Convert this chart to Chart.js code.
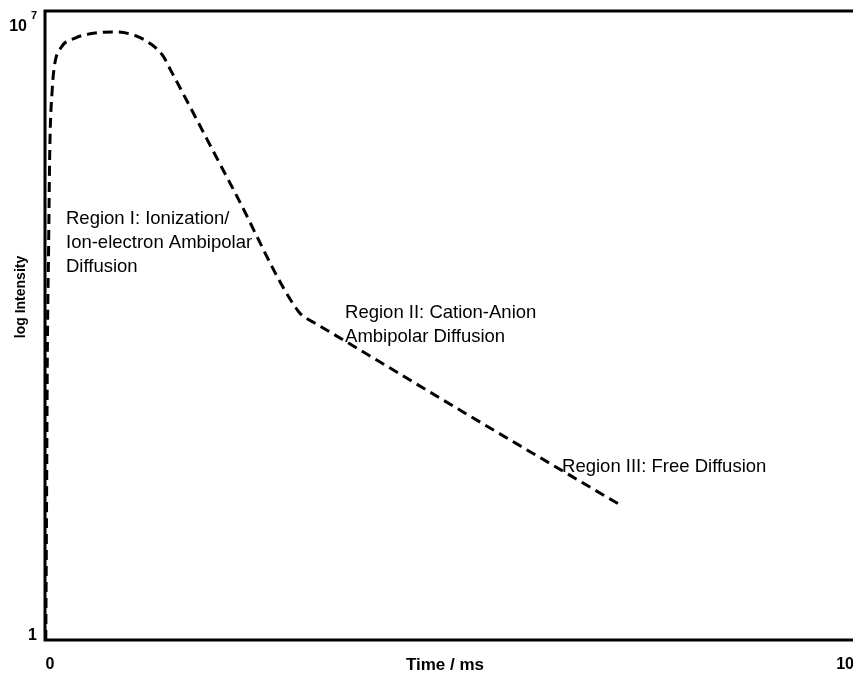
<!DOCTYPE html>
<html>
<head>
<meta charset="utf-8">
<title>Ion decay regions</title>
<script src="https://cdn.jsdelivr.net/npm/chart.js@4.4.1/dist/chart.umd.min.js"></script>
<style>
  html, body { margin: 0; padding: 0; overflow: hidden; background: #ffffff; }
  #wrap { width: 856px; height: 674px; }
</style>
</head>
<body>
<div id="wrap"><canvas id="c" width="856" height="674"></canvas></div>
<script>
// Decay curve: time (ms) vs. intensity (log scale)
const timeMs = [0.01, 0.02, 0.03, 0.045, 0.06, 0.09, 0.12, 0.2, 0.38, 0.64, 0.89, 1.14, 1.33, 1.48, 1.58, 2.38, 3.19, 3.29, 3.41, 5.32, 7.23];
const intensity = [1, 36, 1700, 22000, 280000, 1.3e6, 2.5e6, 3.9e6, 5.0e6, 5.7e6, 5.85e6, 5.3e6, 4.3e6, 3.2e6, 2.2e6, 99000, 4500, 3800, 3300, 320, 32];

// Axis ticks
const xTicks = [0, 10];
const yTicks = [1, 1e7];

// Axis titles
const xTitle = 'Time / ms';
const yTitle = 'log Intensity';

// Region notes, anchored in data coordinates
const noteText = [
  ['Region I: Ionization/', 'Ion-electron Ambipolar', 'Diffusion'],
  ['Region II: Cation-Anion', 'Ambipolar Diffusion'],
  ['Region III: Free Diffusion']
];
const noteX = [0.264, 3.774, 6.503];
const noteY = [48400, 4360, 84];

const points = timeMs.map((t, i) => ({ x: t, y: intensity[i] }));

const FONT = '"Liberation Sans", Arial, Helvetica, sans-serif';

const framePlugin = {
  id: 'frame',
  afterDatasetsDraw(chart) {
    const ctx = chart.ctx;
    const a = chart.chartArea;
    const xs = chart.scales.x;
    const ys = chart.scales.y;
    ctx.save();

    // frame: left axis, bottom axis, top edge
    ctx.strokeStyle = '#000';
    ctx.lineWidth = 3;
    ctx.lineCap = 'butt';
    ctx.beginPath();
    ctx.moveTo(a.left - 1.5, a.top);
    ctx.lineTo(a.right + 2, a.top);
    ctx.moveTo(a.left, a.top);
    ctx.lineTo(a.left, a.bottom);
    ctx.moveTo(a.left - 1.5, a.bottom);
    ctx.lineTo(a.right + 2, a.bottom);
    ctx.stroke();

    ctx.fillStyle = '#000';

    // y tick labels (powers of ten)
    ctx.textAlign = 'right';
    ctx.textBaseline = 'middle';
    yTicks.forEach(v => {
      const py = ys.getPixelForValue(v);
      const ly = Math.min(Math.max(py, a.top + 16), a.bottom - 4);
      const e = Math.round(Math.log10(v));
      if (e === 0) {
        ctx.font = 'bold 16px ' + FONT;
        ctx.fillText('1', 37, ly);
      } else {
        ctx.font = 'bold 11px ' + FONT;
        ctx.fillText(String(e), 37, ly - 11);
        ctx.font = 'bold 16px ' + FONT;
        ctx.fillText('10', 27, ly);
      }
    });

    // x tick labels
    ctx.textAlign = 'center';
    ctx.font = 'bold 16px ' + FONT;
    xTicks.forEach(v => {
      ctx.fillText(String(v), xs.getPixelForValue(v) + 5, 665);
    });

    // axis titles
    ctx.font = 'bold 17px ' + FONT;
    ctx.fillText(xTitle, 445, 665);
    ctx.save();
    ctx.translate(21, 297);
    ctx.rotate(-Math.PI / 2);
    ctx.font = 'bold 14px ' + FONT;
    ctx.fillText(yTitle, 0, 0);
    ctx.restore();

    // region notes
    ctx.textAlign = 'left';
    ctx.font = '18.5px ' + FONT;
    noteText.forEach((lines, i) => {
      const px = xs.getPixelForValue(noteX[i]);
      const py = ys.getPixelForValue(noteY[i]);
      lines.forEach((s, j) => ctx.fillText(s, px, py + j * 24));
    });

    ctx.restore();
  }
};

new Chart(document.getElementById('c'), {
  type: 'line',
  data: {
    datasets: [{
      data: points,
      borderColor: '#000',
      borderWidth: 3,
      borderDash: [10, 6],
      pointRadius: 0,
      fill: false,
      cubicInterpolationMode: 'monotone',
      clip: false
    }]
  },
  options: {
    responsive: false,
    animation: false,
    devicePixelRatio: 1,
    layout: { padding: { left: 45, right: 0, top: 11, bottom: 34 } },
    plugins: { legend: { display: false }, tooltip: { enabled: false } },
    scales: {
      x: { type: 'linear', min: 0, max: 10.2, display: false },
      y: { type: 'logarithmic', min: 1, max: 1e7, display: false }
    }
  },
  plugins: [framePlugin]
});
</script>
</body>
</html>
